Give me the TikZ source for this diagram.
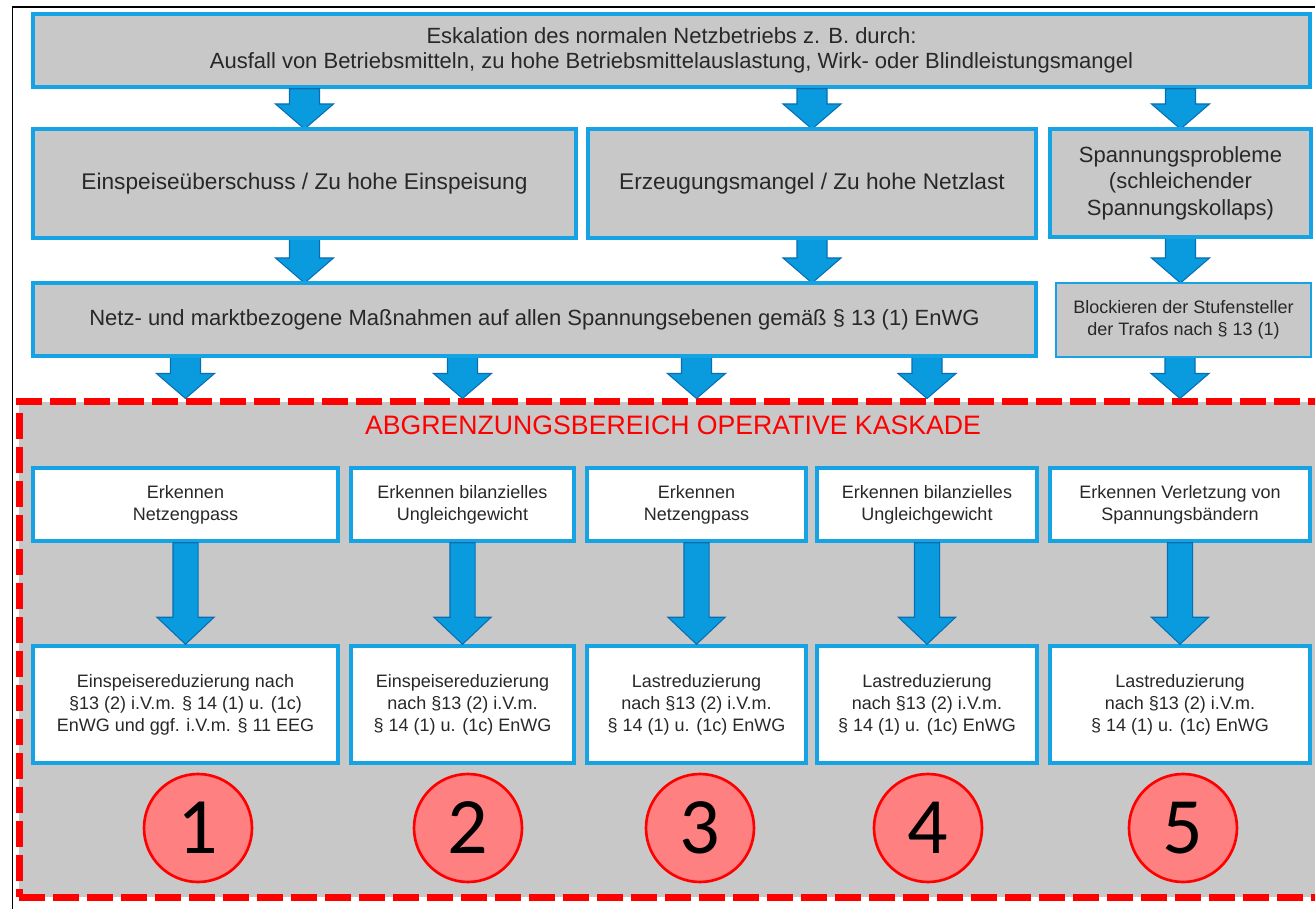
\documentclass[tikz,border=0pt]{standalone}
\usepackage{fontspec}
\setmainfont{Liberation Sans}
\newfontfamily\numfont{Carlito}
\usetikzlibrary{calc}
\definecolor{bblue}{RGB}{22,163,228}
\definecolor{afill}{RGB}{10,155,222}
\definecolor{aedge}{RGB}{8,110,180}
\definecolor{gfill}{RGB}{200,200,200}
\definecolor{txt}{RGB}{40,40,40}
\definecolor{cfill}{RGB}{255,128,128}
\tikzset{
 gbox/.style={draw=bblue, line width=2.6pt, fill=gfill, inner sep=0pt, align=center, text=txt},
 wbox/.style={draw=bblue, line width=2.6pt, fill=white, inner sep=0pt, align=center, text=txt, font=\fontsize{13.5}{16.5}\selectfont},
 blk/.style={fill=afill, draw=aedge, line width=0.8pt, line join=miter},
 num/.style={circle, draw=red, line width=2pt, fill=cfill, minimum size=108*0.75pt, inner sep=0pt, font=\numfont\fontsize{60}{60}\selectfont},
 region/.style={draw=red, dash pattern=on 19.5pt off 6pt, line width=5.25pt, fill=gfill, inner sep=0pt},
}
\newcommand{\blockarrow}[5]{%
 \draw[blk] let \p1=(#1), \p2=(#2) in
  (\x1-#3,\y1) -- (\x1+#3,\y1) -- (\x1+#3,\y2+#5) -- (\x1+#4,\y2+#5) -- (\x1,\y2) -- (\x1-#4,\y2+#5) -- (\x1-#3,\y2+#5) -- cycle;}
\newcommand{\smallarrow}[2]{\blockarrow{#1}{#2}{11.25pt}{21.75pt}{18.75pt}}
\newcommand{\bigarrow}[2]{\blockarrow{#1}{#2}{9.4pt}{21.4pt}{20.25pt}}
\begin{document}
\begin{tikzpicture}[x=0.75pt,y=-0.75pt]
\useasboundingbox (0,0) rectangle (1315,909);
\clip (0,0) rectangle (1315,909);
\fill[white] (0,0) rectangle (1315,909);
\draw[line width=1.1pt] (12.5,912) -- (12.5,7) -- (1318,7);

% region
\node[region, minimum width=1311*0.75pt, minimum height=495*0.75pt] (region) at (674.5,649.5) {};
\node[text=red, font=\fontsize{20}{20}\selectfont] (title) at (673,425) {ABGRENZUNGSBEREICH OPERATIVE KASKADE};

\node[gbox, minimum width=1277*0.75pt, minimum height=73*0.75pt, font=\fontsize{16.5}{18.75}\selectfont] (top) at (671.5,50.5)
 {Eskalation des normalen Netzbetriebs z. B. durch:\\Ausfall von Betriebsmitteln, zu hohe Betriebsmittelauslastung, Wirk- oder Blindleistungsmangel};

\path (304.5,183.5) coordinate (pa) (812,183.5) coordinate (pb) (1180.5,183) coordinate (pc);
\path (185.5,504.5) coordinate (q1) (462.5,504.5) coordinate (q2) (696.5,504.5) coordinate (q3) (927,504.5) coordinate (q4) (1180,504.5) coordinate (q5);

% arrows top -> row 2
\smallarrow{top.south -| pa}{304.5,129}
\smallarrow{top.south -| pb}{812,129}
\smallarrow{top.south -| pc}{1180.5,129}
% arrows row 2 -> row 3
\smallarrow{304.5,238}{304.5,283}
\smallarrow{812,238}{812,283}
\smallarrow{1180.5,237}{1180.5,283}
% arrows row 3 -> region
\smallarrow{q1 |- 0,356}{region.north -| q1}
\smallarrow{q2 |- 0,356}{region.north -| q2}
\smallarrow{q3 |- 0,356}{region.north -| q3}
\smallarrow{q4 |- 0,356}{region.north -| q4}
\smallarrow{q5 |- 0,357}{region.north -| q5}

% row 2
\node[gbox, minimum width=543*0.75pt, minimum height=109*0.75pt, font=\fontsize{17}{20}\selectfont] (r2a) at (pa)
 {Einspeiseüberschuss / Zu hohe Einspeisung};
\node[gbox, minimum width=448*0.75pt, minimum height=109*0.75pt, font=\fontsize{17}{20}\selectfont] (r2b) at (pb)
 {Erzeugungsmangel / Zu hohe Netzlast};
\node[gbox, minimum width=261*0.75pt, minimum height=108*0.75pt, font=\fontsize{16.5}{20}\selectfont] (r2c) at (pc)
 {Spannungsprobleme\\(schleichender\\Spannungskollaps)};
% row 3
\node[gbox, minimum width=1003*0.75pt, minimum height=73*0.75pt, font=\fontsize{16.5}{19}\selectfont] (r3a) at (534.5,319.5)
 {Netz- und marktbezogene Maßnahmen auf allen Spannungsebenen gemäß § 13 (1) EnWG};
\node[gbox, line width=2pt, minimum width=255*0.75pt, minimum height=74*0.75pt, font=\fontsize{13.5}{17}\selectfont] (r3b) at (1183.5,320)
 {Blockieren der Stufensteller\\der Trafos nach § 13 (1)};

% row 4
\node[wbox, minimum width=305*0.75pt, minimum height=73*0.75pt] (b1) at (q1) {Erkennen\\Netzengpass};
\node[wbox, minimum width=223*0.75pt, minimum height=73*0.75pt] (b2) at (q2) {Erkennen bilanzielles\\Ungleichgewicht};
\node[wbox, minimum width=219*0.75pt, minimum height=73*0.75pt] (b3) at (q3) {Erkennen\\Netzengpass};
\node[wbox, minimum width=220*0.75pt, minimum height=73*0.75pt] (b4) at (q4) {Erkennen bilanzielles\\Ungleichgewicht};
\node[wbox, minimum width=260*0.75pt, minimum height=73*0.75pt] (b5) at (q5) {Erkennen Verletzung von\\Spannungsbändern};

% row 5
\node[wbox, minimum width=305*0.75pt, minimum height=117*0.75pt] (d1) at (185.5,704.5)
 {Einspeisereduzierung nach\\§13 (2) i.V.m. § 14 (1) u. (1c)\\EnWG und ggf. i.V.m. § 11 EEG};
\node[wbox, minimum width=223*0.75pt, minimum height=117*0.75pt] (d2) at (462.5,704.5)
 {Einspeisereduzierung\\nach §13 (2) i.V.m.\\§ 14 (1) u. (1c) EnWG};
\node[wbox, minimum width=219*0.75pt, minimum height=117*0.75pt] (d3) at (696.5,704.5)
 {Lastreduzierung\\nach §13 (2) i.V.m.\\§ 14 (1) u. (1c) EnWG};
\node[wbox, minimum width=220*0.75pt, minimum height=117*0.75pt] (d4) at (927,704.5)
 {Lastreduzierung\\nach §13 (2) i.V.m.\\§ 14 (1) u. (1c) EnWG};
\node[wbox, minimum width=260*0.75pt, minimum height=117*0.75pt] (d5) at (1180,704.5)
 {Lastreduzierung\\nach §13 (2) i.V.m.\\§ 14 (1) u. (1c) EnWG};

% big arrows
\bigarrow{b1.south}{d1.north}
\bigarrow{b2.south}{d2.north}
\bigarrow{b3.south}{d3.north}
\bigarrow{b4.south}{d4.north}
\bigarrow{b5.south}{d5.north}

% circles
\node[num] (c1) at (198,828) {1};
\node[num] (c2) at (468,828) {2};
\node[num] (c3) at (700,828) {3};
\node[num] (c4) at (928,828) {4};
\node[num] (c5) at (1183,828) {5};
\end{tikzpicture}
\end{document}
